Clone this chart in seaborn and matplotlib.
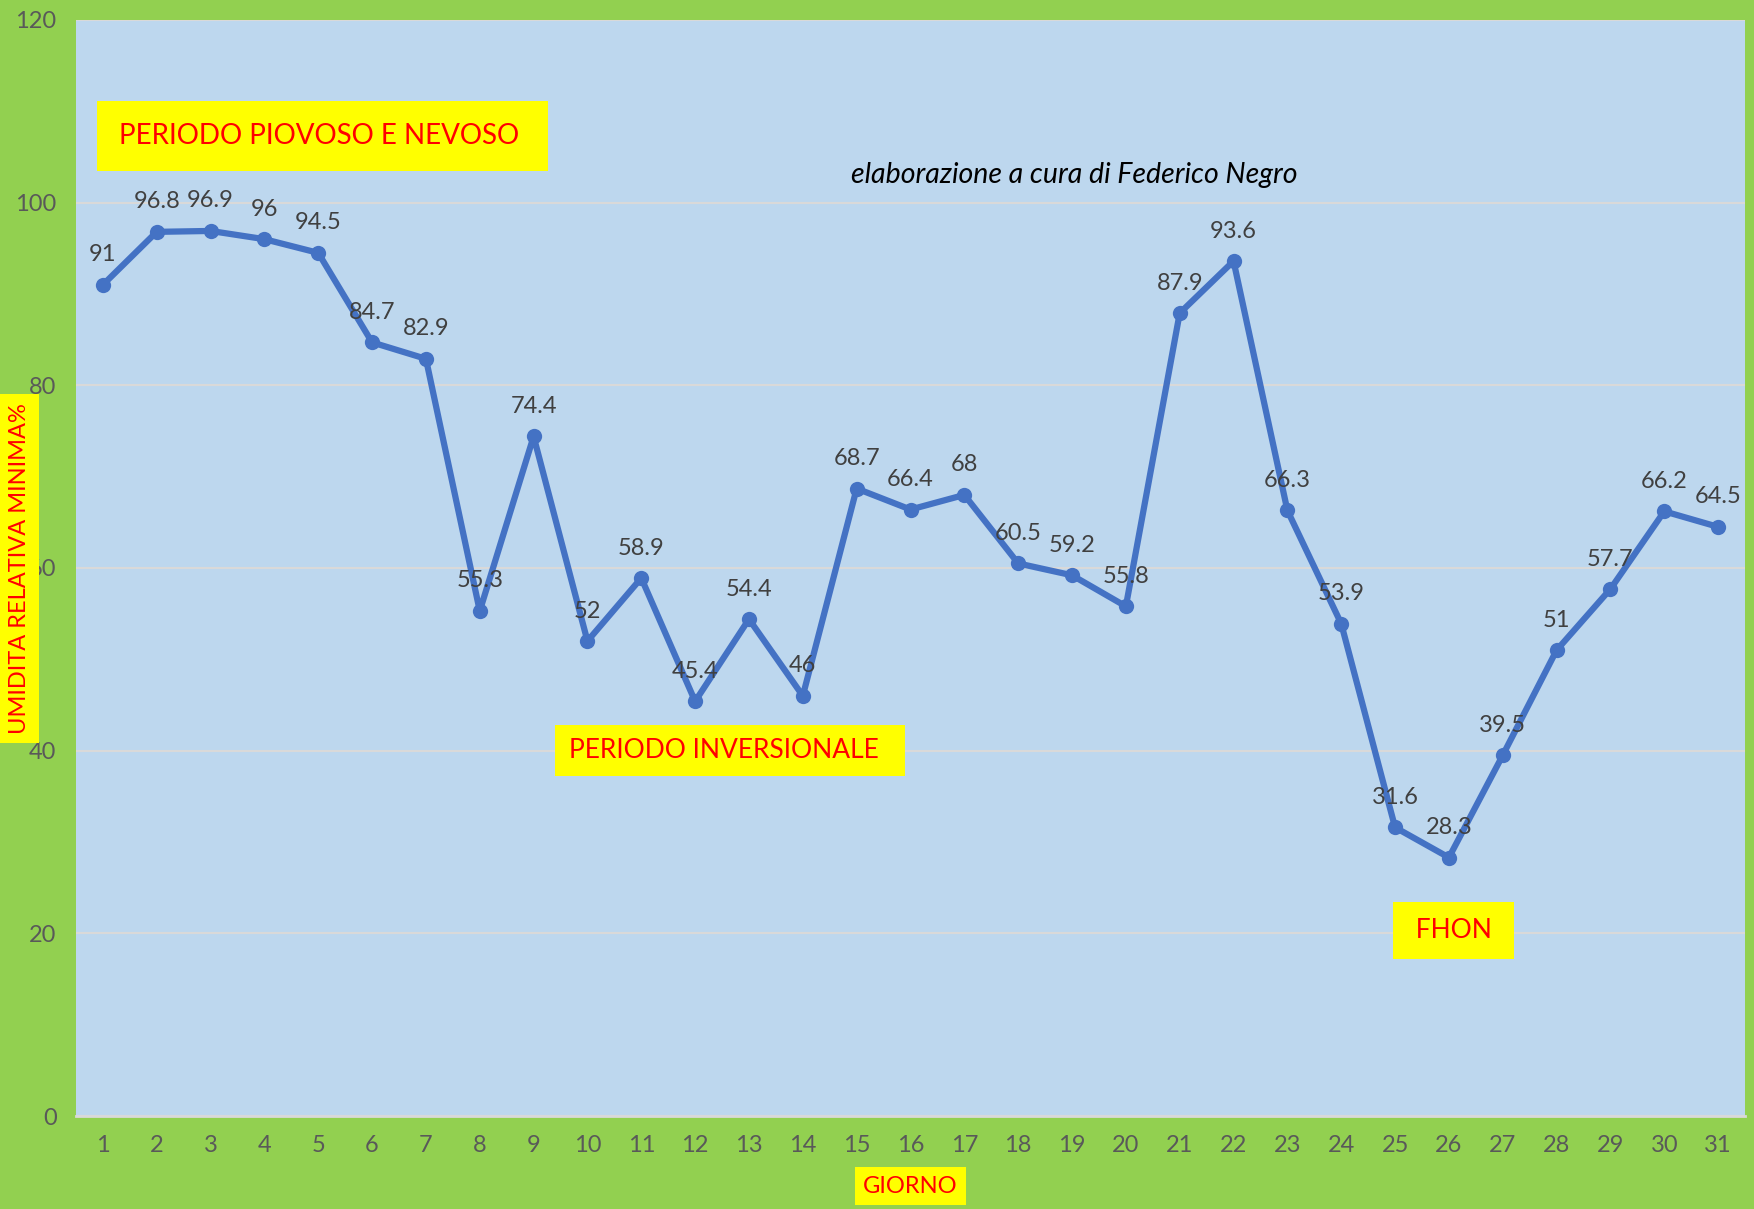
import numpy as np
import pandas as pd
import matplotlib.pyplot as plt
import seaborn as sns

# --- DATA ---
giorni = list(range(1, 32))
umidita = [91, 96.8, 96.9, 96, 94.5, 84.7, 82.9, 55.3, 74.4, 52,
           58.9, 45.4, 54.4, 46, 68.7, 66.4, 68, 60.5, 59.2, 55.8,
           87.9, 93.6, 66.3, 53.9, 31.6, 28.3, 39.5, 51, 57.7, 66.2, 64.5]
y_ticks = [0, 20, 40, 60, 80, 100, 120]

df = pd.DataFrame({'Giorno': giorni, 'Umidita': umidita})

sns.set_theme(style='white')
plt.rcParams['font.family'] = ['Lato', 'DejaVu Sans']

GREEN = '#92D050'
PLOT_BG = '#BDD7EE'
LINE = '#4472C4'
GREY_TXT = '#595959'
YELLOW = '#FFFF00'
RED = '#FF0000'

fig = plt.figure(figsize=(17.54, 12.09), dpi=100, facecolor=GREEN)
ax = fig.add_axes([0.0433, 0.0769, 0.9516, 0.9066])
ax.set_facecolor(PLOT_BG)

sns.lineplot(data=df, x='Giorno', y='Umidita', ax=ax, color=LINE,
             linewidth=4.5, marker='o', markersize=11, markeredgewidth=0,
             zorder=3)

# data labels above points
for x, y in zip(giorni, umidita):
    ax.annotate(f'{y:g}', (x, y), xytext=(0, 14), textcoords='offset points',
                ha='center', va='bottom', fontsize=17, color='#404040', zorder=4)

ax.set_xlim(0.5, 31.5)
ax.set_ylim(0, 120)
ax.set_yticks(y_ticks)
ax.set_xticks(giorni)
ax.set_xticklabels([str(g) for g in giorni])
ax.yaxis.grid(True, color='#D9D9D9', linewidth=1.5, zorder=0)
ax.xaxis.grid(False)
ax.tick_params(axis='both', length=0, labelsize=17, labelcolor=GREY_TXT, pad=14)
for s in ['top', 'right', 'left']:
    ax.spines[s].set_visible(False)
ax.spines['bottom'].set_color('#D9D9D9')
ax.spines['bottom'].set_linewidth(2)
ax.set_xlabel('')
ax.set_ylabel('')

# axis titles with yellow boxes
fig.text(0.519, 0.019, 'GIORNO', ha='center', va='center', fontsize=17,
         color=RED, bbox=dict(boxstyle='square,pad=0.35', fc=YELLOW, ec='none'))
fig.text(0.011, 0.53, 'UMIDITA RELATIVA MINIMA%', ha='center', va='center',
         rotation=90, fontsize=17, color=RED,
         bbox=dict(boxstyle='square,pad=0.38', fc=YELLOW, ec='none'))

# annotation boxes
ax.text(1.3, 107.3, 'PERIODO PIOVOSO E NEVOSO ', ha='left', va='center',
        fontsize=20, color=RED, bbox=dict(boxstyle='square,pad=0.8', fc=YELLOW, ec='none'))
ax.text(9.65, 40.0, 'PERIODO INVERSIONALE  ', ha='left', va='center',
        fontsize=19, color=RED, bbox=dict(boxstyle='square,pad=0.5', fc=YELLOW, ec='none'))
ax.text(25.25, 20.3, ' FHON ', ha='left', va='center',
        fontsize=19, color=RED, bbox=dict(boxstyle='square,pad=0.6', fc=YELLOW, ec='none'))
ax.text(19.05, 103, 'elaborazione a cura di Federico Negro', ha='center', va='center',
        fontsize=20.5, style='italic', color='black')

fig.savefig('out.png', dpi=100, facecolor=GREEN)
